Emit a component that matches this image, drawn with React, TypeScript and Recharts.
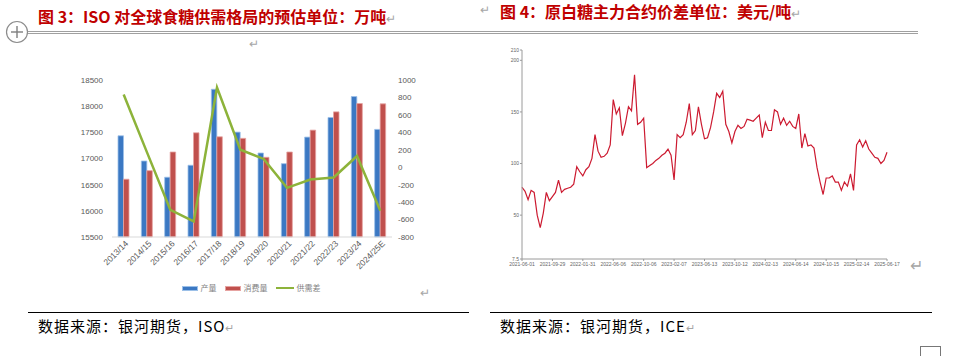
import { ComposedChart, LineChart, Bar, Line, XAxis, YAxis, Legend } from 'recharts';

// 图3：ISO 全球食糖供需（万吨）
const seasons = ['2013/14', '2014/15', '2015/16', '2016/17', '2017/18', '2018/19', '2019/20', '2020/21', '2021/22', '2022/23', '2023/24', '2024/25E'];
const production = [17434, 16952, 16642, 16871, 18323, 17504, 17105, 16901, 17409, 17784, 18184, 17556];
const consumption = [16604, 16768, 17124, 17491, 17415, 17385, 17023, 17124, 17542, 17891, 18051, 18044];
const balance = [833, 170, -488, -622, 913, 200, 95, -237, -141, -118, 129, -499];
const outputTicks = [15500, 16000, 16500, 17000, 17500, 18000, 18500];
const balanceTicks = [-800, -600, -400, -200, 0, 200, 400, 600, 800, 1000];

// 图4：原白糖价差（美元/吨），每个刻度区间 10 个采样
const spreadDates = ['2021-06-01', '2021-09-29', '2022-01-31', '2022-06-06', '2022-10-06', '2023-02-07', '2023-06-13', '2023-10-12', '2024-02-13', '2024-06-14', '2024-10-15', '2025-02-14', '2025-06-17'];
const spreadValues = [
  77, 73, 65, 74, 72, 50, 38, 52, 72, 64,
  68, 72, 84, 72, 75, 76, 77, 80, 97, 92,
  88, 94, 97, 105, 128, 112, 106, 107, 110, 118,
  162, 148, 154, 127, 139, 155, 151, 186, 138, 140,
  144, 96, 98, 100, 103, 105, 108, 110, 114, 108,
  84, 128, 125, 128, 140, 158, 128, 132, 155, 138,
  124, 125, 135, 150, 168, 164, 170, 138, 131, 120,
  131, 137, 134, 136, 143, 142, 141, 144, 147, 125,
  140, 132, 132, 152, 150, 138, 144, 137, 141, 136,
  134, 148, 115, 129, 117, 118, 115, 96, 82, 70,
  86, 86, 88, 82, 82, 74, 82, 78, 90, 74,
  118, 123, 116, 122, 114, 110, 106, 105, 100, 103,
  111,
];
const spreadYTicks = [7.5, 50, 100, 150, 200, 210];
const STEP = 10;

const isoData = seasons.map((s, i) => ({ season: s, prod: production[i], cons: consumption[i], gap: balance[i] }));
const spreadData = spreadValues.map((v, i) => ({ i, v }));
const spreadTicks = spreadDates.map((_, k) => k * STEP);

const axisFont = '"Liberation Sans", Arial, sans-serif';
const cjk = '"Noto Sans CJK SC", sans-serif';

function SeasonTick({ x, y, payload }: any) {
  return (
    <g transform={`translate(${x + 3},${y + 5})`}>
      <text textAnchor="end" transform="rotate(-45)" dy="0.35em" fontSize={8.5} fill="#595959" fontFamily={axisFont}>
        {payload.value}
      </text>
    </g>
  );
}

function IsoLegend() {
  const item = (icon: any, label: string) => (
    <span style={{ display: 'inline-flex', alignItems: 'center', marginRight: 8 }}>
      {icon}
      <span style={{ marginLeft: 3 }}>{label}</span>
    </span>
  );
  return (
    <div style={{ height: 12, lineHeight: '12px', fontSize: 8, color: '#7f7f7f', fontFamily: cjk, display: 'flex', justifyContent: 'center', paddingLeft: 20 }}>
      {item(<span style={{ width: 14, height: 3, background: '#3b78c3', border: '1px solid #9cc0e8' }} />, '产量')}
      {item(<span style={{ width: 14, height: 3, background: '#c0504d', border: '1px solid #e6a3a1' }} />, '消费量')}
      {item(<span style={{ width: 18, height: 2, background: '#8db33a' }} />, '供需差')}
    </div>
  );
}

const grey = '#a6a6a6';
const ret = (style: any) => <span style={{ position: 'absolute', color: grey, fontSize: 12, fontFamily: cjk, ...style }}>↵</span>;

export default function App() {
  return (
    <div style={{ position: 'absolute', left: 0, top: 0, width: 953, height: 356, overflow: 'hidden', background: '#fff' }}>
      {/* 标题 */}
      <div style={{ position: 'absolute', left: 38, top: 6, lineHeight: '20px', fontSize: 16, fontWeight: 700, color: '#c00000', fontFamily: cjk, whiteSpace: 'nowrap' }}>
        图 3：ISO 对全球食糖供需格局的预估单位：万吨<span style={{ color: grey, fontWeight: 400, fontSize: 12 }}>↵</span>
      </div>
      {ret({ left: 480, top: 1, lineHeight: '16px' })}
      <div style={{ position: 'absolute', left: 500, top: 3, lineHeight: '17px', fontSize: 16, fontWeight: 700, color: '#c00000', fontFamily: cjk, whiteSpace: 'nowrap' }}>
        图 4：原白糖主力合约价差单位：美元/吨<span style={{ color: grey, fontWeight: 400, fontSize: 12 }}>↵</span>
      </div>

      <svg style={{ position: 'absolute', left: 5, top: 20 }} width={24} height={24}>
        <circle cx={12} cy={12} r={10.5} fill="#fff" stroke="#8c8c8c" strokeWidth={1.2} />
        <line x1={6} y1={12} x2={18} y2={12} stroke="#7f7f7f" strokeWidth={1.4} />
        <line x1={12} y1={6} x2={12} y2={18} stroke="#7f7f7f" strokeWidth={1.4} />
      </svg>
      <div style={{ position: 'absolute', left: 28, top: 31, width: 890, height: 1, background: '#a0a0a0' }} />
      <div style={{ position: 'absolute', left: 28, top: 33, width: 890, height: 1, background: '#a0a0a0' }} />
      {ret({ left: 249, top: 34 })}

      {/* 左图 */}
      <div style={{ position: 'absolute', left: 65, top: 60 }}>
        <ComposedChart width={360} height={245} data={isoData} margin={{ top: 20, right: 0, bottom: 11, left: 0 }} barGap={0} barSize={5.5}>
          <XAxis dataKey="season" tick={<SeasonTick />} tickLine={false} tickSize={0} tickMargin={0} height={45} interval={0} axisLine={{ stroke: '#d9d9d9' }} />
          <YAxis yAxisId="l" domain={[15500, 18500]} ticks={outputTicks} width={47} axisLine={false} tickLine={false} tickSize={0} tickMargin={9}
            tick={{ fontSize: 8, fill: '#595959', fontFamily: axisFont }} />
          <YAxis yAxisId="r" orientation="right" domain={[-800, 1000]} ticks={balanceTicks} width={33} axisLine={false} tickLine={false} tickSize={0} tickMargin={6}
            tick={{ fontSize: 8, fill: '#595959', fontFamily: axisFont, textAnchor: 'start' }} />
          <Legend verticalAlign="bottom" content={() => <IsoLegend />} />
          <Bar yAxisId="l" dataKey="prod" name="产量" fill="#3b78c3" stroke="#9cc0e8" strokeWidth={0.8} isAnimationActive={false} />
          <Bar yAxisId="l" dataKey="cons" name="消费量" fill="#c0504d" stroke="#e6a3a1" strokeWidth={0.8} isAnimationActive={false} />
          <Line yAxisId="r" dataKey="gap" name="供需差" type="linear" stroke="#8db33a" strokeWidth={2.5} dot={false} isAnimationActive={false} />
        </ComposedChart>
      </div>
      {ret({ left: 420, top: 283 })}

      {/* 右图 */}
      <div style={{ position: 'absolute', left: 490, top: 40 }}>
        <LineChart width={410} height={240} data={spreadData} margin={{ top: 10, right: 13, bottom: 0, left: 0 }}>
          <XAxis dataKey="i" type="number" domain={[0, 120]} ticks={spreadTicks} tickFormatter={(v: number) => spreadDates[Math.round(v / STEP)]}
            height={21} tickSize={2} tickMargin={1} axisLine={{ stroke: '#9a9a9a' }} tickLine={{ stroke: '#9a9a9a' }}
            tick={{ fontSize: 5, fill: '#666', fontFamily: axisFont }} />
          <YAxis domain={[7.5, 210]} ticks={spreadYTicks} width={32} tickSize={2} tickMargin={1} axisLine={{ stroke: '#9a9a9a' }} tickLine={{ stroke: '#9a9a9a' }}
            tick={{ fontSize: 5, fill: '#666', fontFamily: axisFont }} />
          <Line dataKey="v" type="linear" stroke="#cc1a30" strokeWidth={1.2} dot={false} isAnimationActive={false} />
        </LineChart>
      </div>
      <span style={{ position: 'absolute', left: 910, top: 256, color: grey, fontSize: 16 }}>↵</span>

      {/* 数据来源 */}
      <div style={{ position: 'absolute', left: 28, top: 312, width: 441, height: 1, background: '#000' }} />
      <div style={{ position: 'absolute', left: 490, top: 312, width: 442, height: 1, background: '#000' }} />
      <div style={{ position: 'absolute', left: 38, top: 316, lineHeight: '20px', fontSize: 15, letterSpacing: 1, fontFamily: cjk, color: '#000', whiteSpace: 'nowrap' }}>
        数据来源：银河期货，ISO<span style={{ color: grey, fontSize: 11 }}>↵</span>
      </div>
      <div style={{ position: 'absolute', left: 500, top: 316, lineHeight: '20px', fontSize: 15, letterSpacing: 1, fontFamily: cjk, color: '#000', whiteSpace: 'nowrap' }}>
        数据来源：银河期货，ICE<span style={{ color: grey, fontSize: 11 }}>↵</span>
      </div>
      <div style={{ position: 'absolute', left: 920, top: 346, width: 19, height: 14, border: '1px solid #777' }} />
    </div>
  );
}
